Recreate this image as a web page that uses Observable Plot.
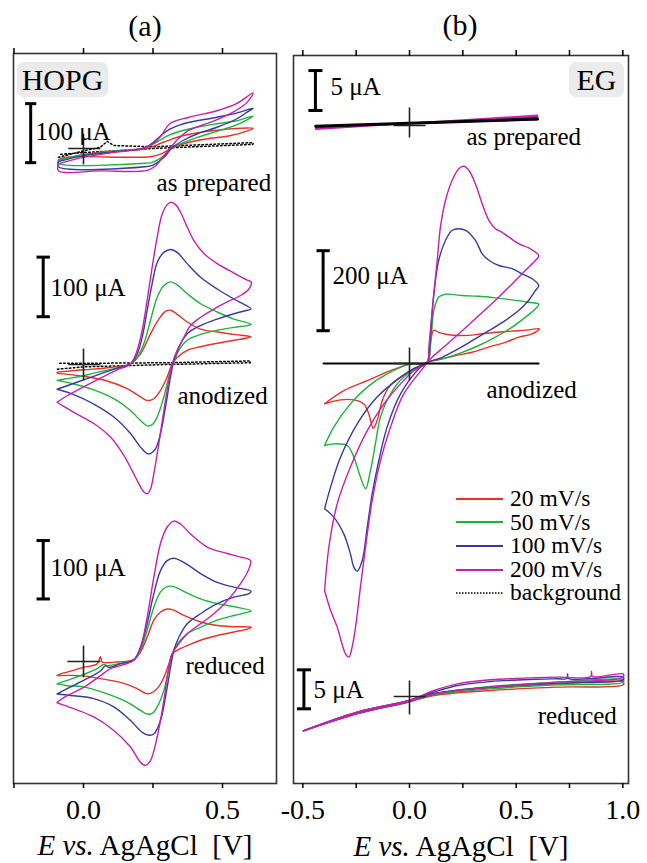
<!DOCTYPE html>
<html>
<head>
<meta charset="utf-8">
<script src="https://cdn.jsdelivr.net/npm/d3@7"></script>
<script src="https://cdn.jsdelivr.net/npm/@observablehq/plot@0.6"></script>
<style>
html,body{margin:0;padding:0;background:#fff;}
#chart{position:relative;width:647px;height:863px;overflow:hidden;font-family:"Liberation Serif","Times New Roman",serif;color:#000;}
#chart .abs{position:absolute;white-space:nowrap;line-height:1;}
#chart > svg{position:absolute;top:0;}
</style>
</head>
<body>
<div id="chart"></div>
<script>
// ---------- legend / series ----------
const speeds = ["20 mV/s", "50 mV/s", "100 mV/s", "200 mV/s"];
const speedColors = ["#e8302a", "#1db33c", "#3a3a9e", "#c81fae"];
const backgroundLabel = "background";

// ---------- axis ticks ----------
const ticksA = [-0.25, 0, 0.25, 0.5];
const labeledA = [0, 0.5];
const ticksB = [-0.5, -0.25, 0, 0.25, 0.5, 0.75, 1.0];
const labeledB = [-0.5, 0, 0.5, 1.0];

// ---------- (a) HOPG  [E (V), I (µA)] ----------
const hopgPrep20 = [[-0.09,-19],[0.06,-6],[0.22,-1],[0.29,11],[0.36,22],[0.48,31],[0.61,34],[0.59,30],[0.53,22],[0.44,16],[0.36,8],[0.31,-1],[0.28,-9],[0.24,-14],[-0.07,-15],[-0.09,-19]];
const hopgPrep50 = [[-0.09,-19],[0.00,-11],[0.12,-4],[0.22,1],[0.26,10],[0.31,23],[0.38,33],[0.48,42],[0.55,47],[0.61,55],[0.59,49],[0.55,40],[0.48,29],[0.41,19],[0.36,10],[0.32,2],[0.29,-12],[0.25,-23],[0.22,-25],[-0.09,-25],[-0.09,-19]];
const hopgPrep100 = [[-0.09,-22],[0.00,-12],[0.12,-5],[0.22,1],[0.26,14],[0.30,30],[0.36,42],[0.48,53],[0.55,60],[0.61,68],[0.59,62],[0.55,50],[0.48,36],[0.41,25],[0.36,14],[0.32,2],[0.29,-15],[0.25,-28],[0.22,-31],[-0.09,-31],[-0.09,-22]];
const hopgPrep200 = [[-0.09,-26],[0.00,-15],[0.12,-6],[0.22,1],[0.25,8],[0.28,22],[0.31,42],[0.38,53],[0.48,64],[0.55,76],[0.61,94],[0.59,79],[0.54,62],[0.46,45],[0.38,31],[0.34,16],[0.30,-6],[0.26,-29],[0.23,-37],[0.06,-38],[-0.09,-38],[-0.09,-26]];
const hopgPrepBg = [[-0.09,-15],[0.0,-4],[0.06,2],[0.085,12],[0.11,5],[0.25,3],[0.61,10],[0.61,7],[0.25,0],[0.0,-7],[-0.09,-10]];

const hopgAnod20 = [[-0.095,-13],[0,-9],[0.097,-5],[0.169,1],[0.205,18],[0.241,52],[0.271,77],[0.295,90],[0.313,92],[0.337,85],[0.373,72],[0.421,60],[0.481,55],[0.541,51],[0.603,47],[0.589,45],[0.541,41],[0.481,36],[0.421,30],[0.373,24],[0.337,12],[0.319,1],[0.301,-21],[0.277,-44],[0.253,-58],[0.229,-61],[0.205,-55],[0.157,-41],[0.085,-28],[0,-20],[-0.095,-15]];
const hopgAnod50 = [[-0.095,-27],[-0.059,-24],[0,-19],[0.061,-12],[0.121,-6],[0.169,1],[0.193,12],[0.217,35],[0.241,75],[0.265,114],[0.289,134],[0.313,140],[0.337,135],[0.373,120],[0.421,103],[0.481,89],[0.541,77],[0.603,68],[0.589,66],[0.541,63],[0.481,58],[0.421,51],[0.373,41],[0.343,24],[0.325,4],[0.307,-21],[0.289,-55],[0.265,-89],[0.247,-102],[0.229,-104],[0.205,-95],[0.169,-78],[0.109,-58],[0.037,-43],[-0.035,-33],[-0.095,-27]];
const hopgAnod100 = [[-0.095,-42],[-0.059,-36],[0,-26],[0.061,-16],[0.121,-6],[0.169,1],[0.193,18],[0.211,46],[0.229,92],[0.247,137],[0.265,173],[0.289,190],[0.313,195],[0.337,190],[0.373,171],[0.421,148],[0.481,128],[0.541,111],[0.603,94],[0.589,92],[0.541,86],[0.481,77],[0.421,66],[0.373,52],[0.343,29],[0.325,7],[0.313,-21],[0.295,-72],[0.277,-117],[0.259,-143],[0.241,-151],[0.229,-151],[0.205,-140],[0.169,-117],[0.109,-89],[0.037,-67],[-0.035,-51],[-0.095,-42]];
const hopgAnod200 = [[-0.095,-64],[-0.059,-53],[0,-38],[0.061,-23],[0.121,-9],[0.169,1],[0.193,24],[0.211,58],[0.229,109],[0.247,165],[0.265,216],[0.283,255],[0.301,271],[0.315,275],[0.331,271],[0.349,258],[0.373,233],[0.397,210],[0.433,188],[0.481,171],[0.541,155],[0.589,143],[0.603,140],[0.595,128],[0.565,117],[0.517,106],[0.469,94],[0.421,80],[0.385,66],[0.361,46],[0.337,24],[0.319,1],[0.307,-27],[0.289,-78],[0.271,-134],[0.253,-185],[0.241,-211],[0.229,-219],[0.217,-216],[0.199,-202],[0.175,-180],[0.145,-154],[0.097,-123],[0.037,-100],[-0.024,-84],[-0.071,-71],[-0.095,-64]];
const hopgAnodBg = [[-0.094,-8],[0,-4],[0.3,0],[0.6,3],[0.6,6],[0.3,3],[0,2],[-0.094,2]];

const hopgRed20 = [[-0.095,-24],[-0.083,-21],[-0.059,-18],[0,-10],[0.049,-4],[0.061,8],[0.067,-1],[0.109,-1],[0.181,3],[0.205,16],[0.229,41],[0.253,70],[0.277,84],[0.301,89],[0.325,87],[0.361,78],[0.421,67],[0.481,61],[0.541,59],[0.603,58],[0.589,55],[0.541,50],[0.481,44],[0.421,36],[0.373,27],[0.337,19],[0.319,13],[0.307,-4],[0.289,-27],[0.265,-46],[0.241,-54],[0.223,-54],[0.193,-46],[0.145,-37],[0.061,-29],[-0.012,-24],[-0.095,-24]];
const hopgRed50 = [[-0.095,-38],[-0.059,-32],[0,-22],[0.049,-12],[0.073,-5],[0.085,-7],[0.133,-3],[0.181,3],[0.205,19],[0.229,53],[0.253,92],[0.277,118],[0.301,127],[0.325,127],[0.361,119],[0.421,106],[0.481,98],[0.541,93],[0.603,86],[0.595,84],[0.541,78],[0.481,70],[0.421,58],[0.373,47],[0.343,33],[0.319,13],[0.307,-12],[0.289,-49],[0.265,-77],[0.247,-88],[0.229,-89],[0.205,-83],[0.157,-69],[0.085,-55],[0,-43],[-0.059,-41],[-0.095,-38]];
const hopgRed100 = [[-0.095,-55],[-0.059,-46],[0,-32],[0.061,-16],[0.079,-7],[0.091,-10],[0.133,-4],[0.181,3],[0.205,24],[0.229,64],[0.253,115],[0.277,154],[0.301,171],[0.325,175],[0.361,168],[0.421,149],[0.481,134],[0.541,126],[0.603,119],[0.595,115],[0.541,109],[0.481,98],[0.421,81],[0.373,64],[0.343,41],[0.325,19],[0.313,-10],[0.295,-60],[0.277,-100],[0.253,-123],[0.235,-125],[0.211,-120],[0.169,-100],[0.109,-77],[0.037,-63],[-0.035,-58],[-0.095,-55]];
const hopgRed200 = [[-0.095,-69],[-0.059,-58],[0,-44],[0.061,-24],[0.097,-12],[0.133,-7],[0.181,2],[0.205,24],[0.229,75],[0.253,143],[0.277,200],[0.301,228],[0.325,238],[0.349,233],[0.385,216],[0.445,194],[0.517,183],[0.565,177],[0.601,171],[0.595,157],[0.565,132],[0.517,103],[0.469,81],[0.421,64],[0.373,47],[0.343,30],[0.319,13],[0.307,-10],[0.289,-66],[0.265,-128],[0.241,-168],[0.223,-176],[0.205,-171],[0.169,-145],[0.109,-117],[0.037,-94],[-0.035,-80],[-0.095,-70]];

// ---------- (b) EG  [E (V), I (µA)] ----------
const egPrep20 = [[-0.44,-0.15],[0.60,0.80],[0.60,0.70],[-0.44,-0.10]];
const egPrep50 = [[-0.44,-0.25],[0.60,0.90],[0.60,0.80],[-0.44,-0.15]];
const egPrep100 = [[-0.44,-0.35],[0.60,1.08],[0.60,0.95],[-0.44,-0.25]];
const egPrep200 = [[-0.44,-0.45],[0.60,1.25],[0.60,1.10],[-0.44,-0.32]];
const egPrepBg = [[-0.44,-0.10],[0.60,0.78]];

const egAnod20 = [[-0.398,-101],[-0.308,-68],[-0.198,-43],[-0.089,-18],[0.005,-1],[0.083,3],[0.099,58],[0.114,83],[0.137,78],[0.169,73],[0.247,70],[0.325,73],[0.403,78],[0.481,81],[0.559,84],[0.609,87],[0.575,74],[0.513,66],[0.450,53],[0.372,41],[0.294,28],[0.216,20],[0.137,9],[0.083,3],[-0.042,-34],[-0.097,-59],[-0.128,-93],[-0.152,-143],[-0.170,-162],[-0.191,-126],[-0.214,-101],[-0.261,-91],[-0.323,-91],[-0.398,-101]];
const egAnod50 = [[-0.398,-205],[-0.355,-159],[-0.277,-101],[-0.198,-59],[-0.105,-26],[0.005,-1],[0.083,3],[0.099,49],[0.114,132],[0.137,166],[0.169,173],[0.247,170],[0.325,168],[0.403,164],[0.481,159],[0.559,153],[0.606,148],[0.591,137],[0.544,116],[0.481,91],[0.403,66],[0.325,45],[0.247,28],[0.169,14],[0.083,3],[-0.027,-34],[-0.089,-76],[-0.136,-134],[-0.160,-201],[-0.183,-268],[-0.206,-313],[-0.230,-284],[-0.261,-234],[-0.292,-205],[-0.355,-201],[-0.398,-205]];
const egAnod100 = [[-0.398,-363],[-0.370,-309],[-0.323,-234],[-0.245,-151],[-0.152,-84],[-0.042,-34],[0.020,-13],[0.083,3],[0.091,24],[0.099,74],[0.114,174],[0.137,258],[0.169,308],[0.200,333],[0.231,337],[0.263,333],[0.309,308],[0.341,274],[0.372,258],[0.419,245],[0.481,237],[0.528,224],[0.575,212],[0.606,195],[0.591,183],[0.559,158],[0.513,133],[0.450,108],[0.372,82],[0.294,57],[0.216,33],[0.137,12],[0.083,3],[0.052,-9],[-0.042,-76],[-0.105,-159],[-0.144,-243],[-0.175,-326],[-0.198,-409],[-0.222,-493],[-0.245,-519],[-0.261,-509],[-0.277,-476],[-0.308,-426],[-0.355,-384],[-0.398,-363]];
const egAnod200 = [[-0.398,-568],[-0.378,-459],[-0.339,-351],[-0.277,-259],[-0.198,-168],[-0.120,-101],[-0.042,-51],[0.020,-18],[0.083,3],[0.091,41],[0.099,91],[0.114,174],[0.130,258],[0.145,341],[0.169,408],[0.200,458],[0.231,487],[0.255,493],[0.278,483],[0.309,449],[0.341,399],[0.372,358],[0.403,337],[0.434,328],[0.466,316],[0.513,299],[0.559,289],[0.606,270],[0.591,258],[0.544,233],[0.481,199],[0.403,158],[0.325,120],[0.247,82],[0.169,45],[0.091,8],[0.067,-9],[-0.027,-76],[-0.089,-159],[-0.136,-243],[-0.175,-343],[-0.206,-459],[-0.230,-559],[-0.253,-659],[-0.269,-709],[-0.284,-734],[-0.300,-726],[-0.339,-659],[-0.370,-617],[-0.398,-568]];
const egAnodBg = [[-0.403,0],[0.605,0]];

const egRed20 = [[-0.498,-4.4],[-0.245,-2.1],[-0.003,-0.6],[0.114,0.34],[0.380,1.11],[0.692,1.62],[1.002,1.84],[1.002,1.5],[0.692,1.2],[0.380,0.77],[0.114,0.13],[-0.003,-0.7],[-0.245,-2.2],[-0.498,-4.4]];
const egRed50 = [[-0.498,-4.4],[-0.245,-2.0],[-0.003,-0.55],[0.114,0.34],[0.380,1.28],[0.692,1.84],[1.002,2.14],[1.002,1.84],[0.692,1.5],[0.380,0.98],[0.114,0.21],[-0.003,-0.7],[-0.245,-2.2],[-0.498,-4.4]];
const egRed100 = [[-0.498,-4.4],[-0.245,-2.0],[-0.003,-0.5],[0.114,0.55],[0.224,1.41],[0.380,1.92],[0.536,2.14],[0.692,2.27],[0.738,2.3],[0.741,2.9],[0.745,2.3],[0.849,2.3],[1.002,2.48],[1.002,2.14],[0.692,1.71],[0.380,1.2],[0.114,0.34],[-0.003,-0.65],[-0.245,-2.2],[-0.498,-4.4]];
const egRed200 = [[-0.498,-4.4],[-0.245,-2.0],[-0.003,-0.5],[0.114,0.77],[0.224,1.62],[0.380,2.14],[0.536,2.35],[0.692,2.48],[0.849,2.56],[0.853,3.2],[0.858,2.56],[1.002,2.9],[1.002,2.48],[0.692,1.84],[0.380,1.2],[0.114,0.34],[-0.003,-0.64],[-0.245,-2.2],[-0.498,-4.44]];

// ---------- layout ----------
const H_TOTAL = 863;
const fmt = d => d3.format(".1f")(d).replace("\u2212", "-");

const panelA = {
  left: 0, width: 285, mL: 13, mR: 9, mT: 53, mB: 80,
  xDomain: [-0.2518, 0.6942], ticks: ticksA, labeled: labeledA,
  subs: [
    {base: 635, k: 0.59, curves: [hopgPrep20, hopgPrep50, hopgPrep100, hopgPrep200],
     bg: hopgPrepBg, bgDash: "1.6,2.4", bgWidth: 1.5, bgTop: false,
     bar: {E: -0.19, i0: -24, i1: 76, cap: 0.02},
     labels: [{t: "100 \u03bcA", E: -0.173, I: 28}, {t: "as prepared", E: 0.263, I: -59}],
     cross: {e0: -0.055, e1: 0.061, i0: -27, i1: 25}},
    {base: 419, k: 0.59, curves: [hopgAnod20, hopgAnod50, hopgAnod100, hopgAnod200],
     bg: hopgAnodBg, bgDash: "1.6,2.4", bgWidth: 1.5, bgTop: false,
     bar: {E: -0.145, i0: 81, i1: 182, cap: 0.024},
     labels: [{t: "100 \u03bcA", E: -0.119, I: 130}, {t: "anodized", E: 0.338, I: -53}],
     cross: {e0: -0.055, e1: 0.061, i0: -27, i1: 27}},
    {base: 122, k: 0.59, curves: [hopgRed20, hopgRed50, hopgRed100, hopgRed200],
     bar: {E: -0.145, i0: 106, i1: 205, cap: 0.024},
     labels: [{t: "100 \u03bcA", E: -0.119, I: 159}, {t: "reduced", E: 0.367, I: -7}],
     cross: {e0: -0.058, e1: 0.061, i0: -27, i1: 27}}
  ]
};

const panelB = {
  left: 280, width: 367, mL: 13, mR: 19, mT: 55, mB: 80,
  xDomain: [-0.5438, 1.0266], ticks: ticksB, labeled: labeledB,
  subs: [
    {base: 658, k: 8.2, curves: [egPrep20, egPrep50, egPrep100, egPrep200], curve: "linear",
     bg: egPrepBg, bgDash: null, bgWidth: 3, bgTop: true,
     bar: {E: -0.441, i0: 1.83, i1: 6.7, cap: 0.033},
     labels: [{t: "5 \u03bcA", E: -0.370, I: 4.67}, {t: "as prepared", E: 0.267, I: -1.46}],
     cross: {e0: -0.075, e1: 0.075, i0: -1.46, i1: 2.2}},
    {base: 420, k: 0.4, curves: [egAnod20, egAnod50, egAnod100, egAnod200],
     bg: egAnodBg, bgDash: null, bgWidth: 2, bgTop: true,
     bar: {E: -0.405, i0: 82, i1: 282, cap: 0.031},
     labels: [{t: "200 \u03bcA", E: -0.361, I: 220}, {t: "anodized", E: 0.361, I: -67}],
     cross: {e0: -0.075, e1: 0.075, i0: -42, i1: 40}},
    {base: 87, k: 7.8, curves: [egRed20, egRed50, egRed100, egRed200],
     bar: {E: -0.495, i0: -1.58, i1: 3.42, cap: 0.033},
     labels: [{t: "5 \u03bcA", E: -0.450, I: 0.77}, {t: "reduced", E: 0.601, I: -2.44}],
     cross: {e0: -0.074, e1: 0.075, i0: -2.3, i1: 2.05}}
  ]
};

function makePanel(cfg) {
  const H = H_TOTAL - cfg.mT - cfg.mB;
  const marks = [];
  for (const s of cfg.subs) {
    const Y = i => s.base + i * s.k;
    const bgMark = s.bg ? Plot.line(s.bg, {x: d => d[0], y: d => Y(d[1]), stroke: "#000",
      strokeWidth: s.bgWidth, strokeDasharray: s.bgDash || undefined, curve: "linear"}) : null;
    if (bgMark && !s.bgTop) marks.push(bgMark);
    s.curves.forEach((c, j) => {
      marks.push(Plot.line(c, {x: d => d[0], y: d => Y(d[1]), stroke: speedColors[j],
        strokeWidth: 1.4, curve: s.curve || "catmull-rom"}));
    });
    if (bgMark && s.bgTop) marks.push(bgMark);
    // origin cross
    const cr = s.cross;
    const crossSegs = [
      {x1: cr.e0, x2: cr.e1, y1: Y(0), y2: Y(0)},
      {x1: 0, x2: 0, y1: Y(cr.i0), y2: Y(cr.i1)}
    ];
    marks.push(Plot.link(crossSegs, {x1: "x1", x2: "x2", y1: "y1", y2: "y2", stroke: "#222", strokeWidth: 1.6}));
    // scale bar
    const b = s.bar;
    const barSegs = [
      {x1: b.E, x2: b.E, y1: Y(b.i0), y2: Y(b.i1)},
      {x1: b.E - b.cap, x2: b.E + b.cap, y1: Y(b.i0), y2: Y(b.i0)},
      {x1: b.E - b.cap, x2: b.E + b.cap, y1: Y(b.i1), y2: Y(b.i1)}
    ];
    marks.push(Plot.link(barSegs, {x1: "x1", x2: "x2", y1: "y1", y2: "y2", stroke: "#000", strokeWidth: 3}));
    // labels
    marks.push(Plot.text(s.labels, {x: "E", y: d => Y(d.I), text: "t", textAnchor: "start",
      fontSize: 25, fill: "#000", lineAnchor: "middle"}));
  }
  marks.push(Plot.frame({stroke: "#333", strokeWidth: 1.6}));
  marks.push(Plot.axisX({anchor: "bottom", ticks: cfg.ticks, tickSize: 5, tickPadding: 11,
    tickFormat: d => cfg.labeled.some(v => Math.abs(v - d) < 1e-9) ? fmt(d) : "",
    fontSize: 28, strokeWidth: 1.5, label: null}));
  marks.push(Plot.axisX({anchor: "top", ticks: cfg.ticks, tickSize: 6, tickFormat: () => "",
    strokeWidth: 1.5, label: null}));
  const svg = Plot.plot({
    width: cfg.width, height: H_TOTAL,
    marginLeft: cfg.mL, marginRight: cfg.mR, marginTop: cfg.mT, marginBottom: cfg.mB,
    x: {domain: cfg.xDomain},
    y: {domain: [0, H], axis: null},
    style: {fontFamily: '"Liberation Serif", "Times New Roman", serif', fontSize: "25px",
      color: "#000", background: "transparent", overflow: "visible"},
    marks
  });
  svg.style.left = cfg.left + "px";
  return svg;
}

const chart = document.getElementById("chart");
chart.appendChild(makePanel(panelA));
chart.appendChild(makePanel(panelB));

function addDiv(html, css) {
  const d = document.createElement("div");
  d.className = "abs";
  d.innerHTML = html;
  Object.assign(d.style, css);
  chart.appendChild(d);
  return d;
}
// panel letters
addDiv("(a)", {left: "145px", top: "26px", transform: "translate(-50%,-50%)", fontSize: "30px"});
addDiv("(b)", {left: "460px", top: "25px", transform: "translate(-50%,-50%)", fontSize: "30px"});
// axis titles
const axisTitle = "<i>E vs.</i> AgAgCl&nbsp; [V]";
addDiv(axisTitle, {left: "145px", top: "845px", transform: "translate(-50%,-50%)", fontSize: "29px"});
addDiv(axisTitle, {left: "461px", top: "846px", transform: "translate(-50%,-50%)", fontSize: "29px"});
// sample boxes
addDiv("HOPG", {left: "17px", top: "62px", width: "91px", height: "35px", background: "#ebebeb",
  borderRadius: "7px", display: "flex", alignItems: "center", justifyContent: "center", fontSize: "30px"});
addDiv("EG", {left: "569px", top: "62px", width: "55px", height: "35px", background: "#ebebeb",
  borderRadius: "7px", display: "flex", alignItems: "center", justifyContent: "center", fontSize: "30px"});

// legend
const legend = addDiv("", {left: "456px", top: "487px", fontSize: "23.5px"});
const legendItems = speeds.map((s, i) => ({label: s, color: speedColors[i], dash: null}))
  .concat([{label: backgroundLabel, color: "#000", dash: "1.5,1.5"}]);
legendItems.forEach(it => {
  const row = document.createElement("div");
  row.style.cssText = "display:flex;align-items:center;height:23.6px;";
  const sw = `<svg width="47" height="6" style="margin-right:7px;overflow:visible"><line x1="0" x2="47" y1="3" y2="3" stroke="${it.color}" stroke-width="${it.dash ? 1.6 : 2}" ${it.dash ? `stroke-dasharray="${it.dash}"` : ""}/></svg>`;
  row.innerHTML = sw + `<span>${it.label}</span>`;
  legend.appendChild(row);
});
</script>
</body>
</html>
